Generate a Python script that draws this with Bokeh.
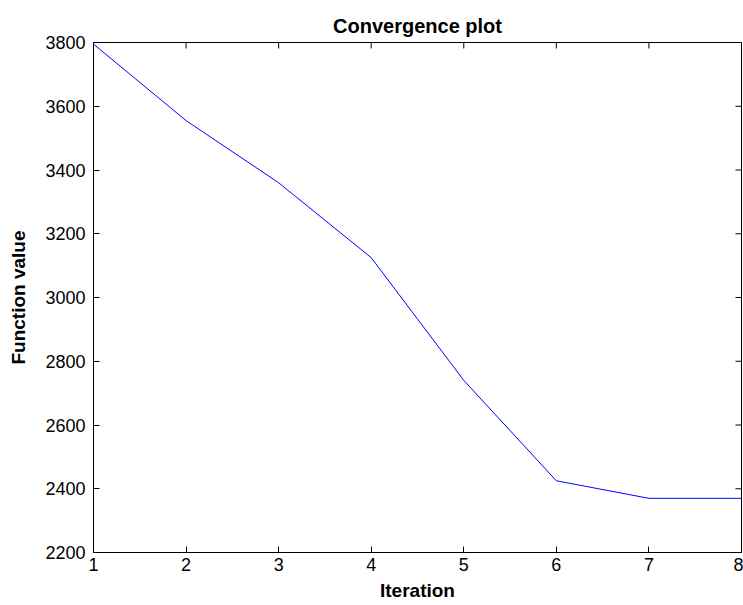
import math
from bokeh.plotting import figure
from bokeh.models import FixedTicker, Range1d
from bokeh.embed import file_html
from bokeh.resources import INLINE

# Data
iterations = [1, 2, 3, 4, 5, 6, 7, 8]
function_values = [3795, 3555, 3360, 3125, 2740, 2425, 2370, 2370]
x_ticks = [1, 2, 3, 4, 5, 6, 7, 8]
y_ticks = [2200, 2400, 2600, 2800, 3000, 3200, 3400, 3600, 3800]

FONT = "Liberation Sans"

p = figure(width=743, height=605, output_backend="svg", toolbar_location=None,
           x_range=Range1d(min(x_ticks), max(x_ticks)),
           y_range=Range1d(min(y_ticks), max(y_ticks)),
           min_border_left=93, min_border_right=2, min_border_top=42, min_border_bottom=53,
           x_axis_label="Iteration", y_axis_label="Function value")

p.title.text = "Convergence plot"
p.title.align = "center"
p.title.text_font = FONT
p.title.text_font_size = "20px"
p.title.text_font_style = "bold"
p.title.text_color = "black"
p.title.standoff = 11

p.line(iterations, function_values, line_color="#0000FF", line_width=1)

p.xgrid.visible = False
p.ygrid.visible = False
p.outline_line_color = "black"
p.outline_line_width = 1
p.background_fill_color = "white"
p.border_fill_color = "white"

for ax in (p.xaxis[0], p.yaxis[0]):
    ax.axis_line_color = "black"
    ax.major_tick_line_color = "black"
    ax.minor_tick_line_color = None
    ax.major_tick_in = 6
    ax.major_tick_out = 0
    ax.major_label_text_font = FONT
    ax.major_label_text_font_size = "18px"
    ax.major_label_text_color = "black"
    ax.axis_label_text_font = FONT
    ax.axis_label_text_font_size = "19px"
    ax.axis_label_text_font_style = "bold"
    ax.axis_label_text_color = "black"

p.xaxis[0].ticker = FixedTicker(ticks=x_ticks)
p.yaxis[0].ticker = FixedTicker(ticks=y_ticks)
p.xaxis[0].major_label_standoff = 5
p.xaxis[0].axis_label_standoff = 6
p.yaxis[0].major_label_standoff = 8
p.yaxis[0].axis_label_standoff = 13

# Mirrored box ticks on the top and right edges (inward, 6 screen px)
p.ray(x=x_ticks, y=[max(y_ticks)] * len(x_ticks), length=6, length_units="screen",
      angle=-math.pi / 2, line_color="black", line_width=1)
p.ray(x=[max(x_ticks)] * len(y_ticks), y=y_ticks, length=6, length_units="screen",
      angle=math.pi, line_color="black", line_width=1)

open("out.html", "w").write(file_html(p, INLINE))
